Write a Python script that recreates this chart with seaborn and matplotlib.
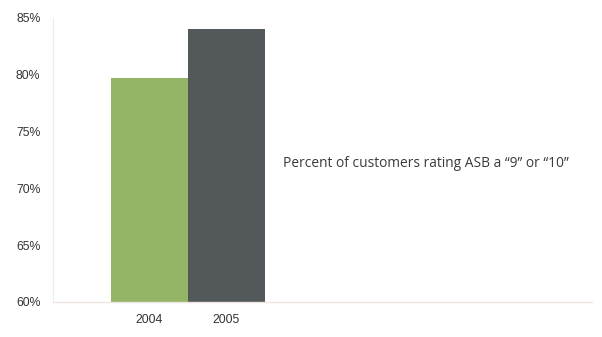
import pandas as pd
import seaborn as sns
import matplotlib.pyplot as plt
from matplotlib.ticker import PercentFormatter

# values
years = ["2004", "2005"]
pct_rating = [79.7, 84.0]
bar_colors = ["#93b565", "#53585a"]
note = "Percent of customers rating ASB a \u201c9\u201d or \u201c10\u201d"

df = pd.DataFrame({"year": years, "pct": pct_rating})

sns.set_style("white")
plt.rcParams["font.family"] = ["Liberation Sans", "DejaVu Sans"]

fig = plt.figure(figsize=(6.02, 3.37), dpi=100)
ax = fig.add_axes([0.088, 0.104, 0.895, 0.843])

sns.barplot(data=df, x="year", y="pct", hue="year", palette=bar_colors,
            width=1.0, legend=False, ax=ax, saturation=1, linewidth=0)

ax.set_ylim(60, 85)
ax.set_xlim(-1.25, 5.75)
ax.set_yticks([60, 65, 70, 75, 80, 85])
ax.yaxis.set_major_formatter(PercentFormatter(decimals=0))
ax.set_xlabel("")
ax.set_ylabel("")

ax.tick_params(axis="y", length=3, width=0.6, color="#e8d8d4", labelsize=8.8,
               labelcolor="#333333", pad=6)
ax.tick_params(axis="x", length=0, labelsize=8.8, labelcolor="#333333", pad=9)

for s in ["top", "right"]:
    ax.spines[s].set_visible(False)
ax.spines["left"].set_color("#ececec")
ax.spines["left"].set_linewidth(0.8)
ax.spines["bottom"].set_color("#f0e4e2")
ax.spines["bottom"].set_linewidth(1.0)

fig.text(0.470, 0.516, note, fontsize=9.9,
         color="#3a3a3a", family=["Open Sans", "DejaVu Sans"], va="center")

fig.savefig("out.png", dpi=100)
